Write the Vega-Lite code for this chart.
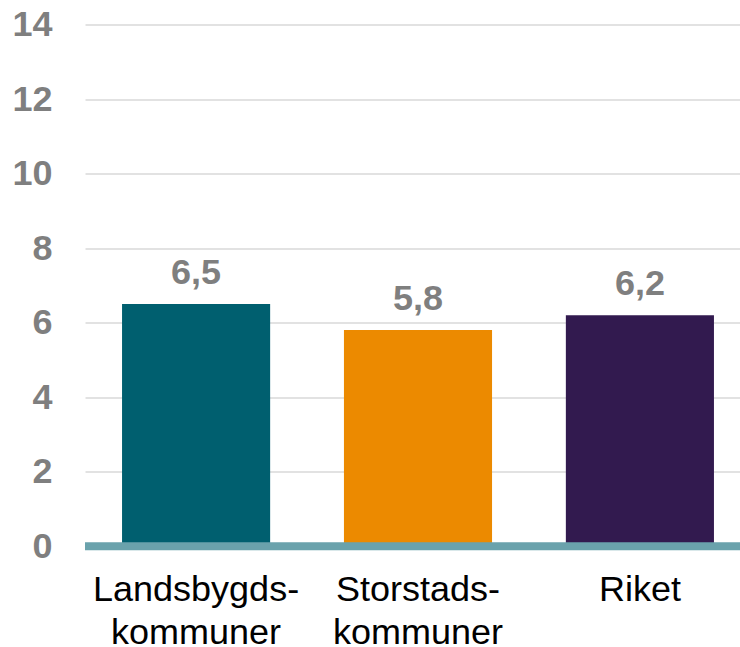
{
  "$schema": "https://vega.github.io/schema/vega-lite/v6.json",
  "autosize": {"type": "none"},
  "padding": {"left": 85, "top": 24.5, "right": 0, "bottom": 110},
  "width": 666,
  "height": 521.7,
  "background": "white",
  "config": {
    "view": {"stroke": null},
    "font": "Liberation Sans",
    "locale": {"number": {"decimal": ",", "thousands": " ", "grouping": [3], "currency": ["", " kr"]}}
  },
  "data": {
    "values": [
      {"kategori": "Landsbygds-\nkommuner", "varde": 6.5},
      {"kategori": "Storstads-\nkommuner", "varde": 5.8},
      {"kategori": "Riket", "varde": 6.2}
    ]
  },
  "layer": [
    {
      "mark": {"type": "bar"},
      "encoding": {
        "x": {
          "field": "kategori", "type": "nominal", "sort": null,
          "scale": {"paddingInner": 0.3326, "paddingOuter": 0.1669},
          "axis": {
            "title": null, "labelAngle": 0, "domain": false, "ticks": false,
            "labelFontSize": 36, "labelColor": "#000000", "labelFont": "Liberation Sans",
            "labelPadding": 26, "labelLineHeight": 43, "labelLimit": 0,
            "labelExpr": "split(datum.label, '\\n')"
          }
        },
        "y": {
          "field": "varde", "type": "quantitative",
          "scale": {"domain": [0, 14], "nice": false},
          "axis": {
            "title": null, "values": [0, 2, 4, 6, 8, 10, 12, 14], "domain": false, "ticks": false,
            "labelFontSize": 36, "labelFontWeight": "bold", "labelColor": "#7F7F7F",
            "labelPadding": 33, "gridColor": "#D9D9D9", "gridWidth": 1.5, "format": "d"
          }
        },
        "color": {
          "field": "kategori", "type": "nominal", "sort": null, "legend": null,
          "scale": {"range": ["#005F6F", "#EC8A00", "#321A4F"]}
        }
      }
    },
    {
      "mark": {"type": "text", "baseline": "alphabetic", "dy": -20, "fontSize": 36, "fontWeight": "bold", "color": "#7F7F7F", "font": "Liberation Sans"},
      "encoding": {
        "x": {"field": "kategori", "type": "nominal", "sort": null},
        "y": {"field": "varde", "type": "quantitative"},
        "text": {"field": "varde", "type": "quantitative", "format": ".1f"}
      }
    },
    {
      "data": {"values": [{"noll": 0}]},
      "mark": {"type": "rule", "color": "#6AA2AC", "strokeWidth": 8},
      "encoding": {"y": {"field": "noll", "type": "quantitative"}}
    }
  ]
}
